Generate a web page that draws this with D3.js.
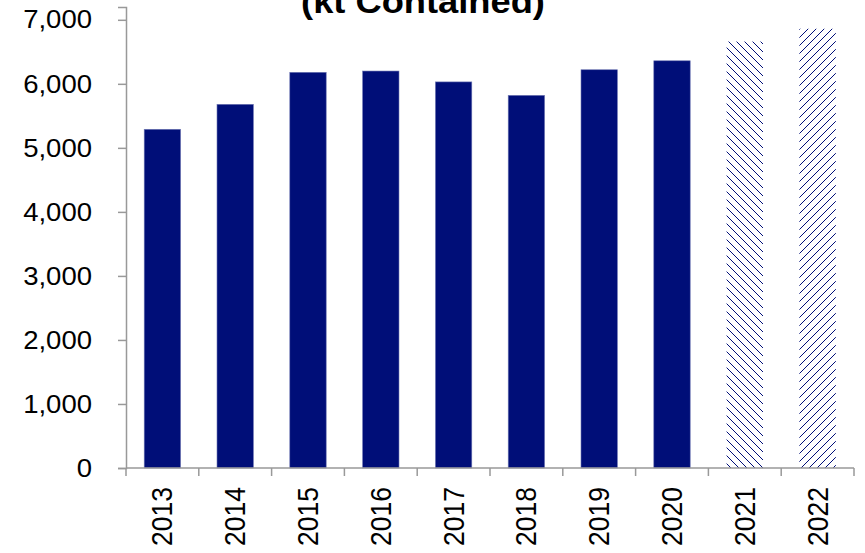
<!DOCTYPE html>
<html>
<head>
<meta charset="utf-8">
<script src="https://cdn.jsdelivr.net/npm/d3@7"></script>
<style>
  body { margin: 0; background: #fff; }
  svg text { font-family: "Liberation Sans", Arial, sans-serif; fill: #000; }
</style>
</head>
<body>
<svg id="chart" width="865" height="553"></svg>
<script>
const years = ["2013", "2014", "2015", "2016", "2017", "2018", "2019", "2020", "2021", "2022"];
const consumption = [5290, 5680, 6180, 6200, 6030, 5820, 6220, 6360, 6660, 6860];
const forecastYears = ["2021", "2022"];
const yTicks = [0, 1000, 2000, 3000, 4000, 5000, 6000, 7000];
const titleText = "(kt Contained)";

const svg = d3.select("#chart");
const margin = { top: 7, right: 11, bottom: 85, left: 126 };
const width = 865 - margin.left - margin.right;
const height = 553 - margin.top - margin.bottom;

const navy = "#000e78";

// hatch patterns for the forecast bars
const defs = svg.append("defs");
function hatch(id, down) {
    const n = 8;
    const p = defs.append("pattern")
        .attr("id", id)
        .attr("patternUnits", "userSpaceOnUse")
        .attr("width", n)
        .attr("height", n);
    p.append("rect").attr("width", n).attr("height", n).attr("fill", "#fff");
    d3.range(n).forEach(k => {
        p.append("rect")
            .attr("x", k)
            .attr("y", down ? k : n - 1 - k)
            .attr("width", 1)
            .attr("height", 1)
            .attr("fill", navy)
            .attr("shape-rendering", "crispEdges");
    });
}
hatch("hatchDown", true);
hatch("hatchUp", false);

const g = svg.append("g")
    .attr("transform", `translate(${margin.left},${margin.top})`);

const x = d3.scaleBand()
    .domain(years)
    .range([0, width])
    .paddingInner(0.5)
    .paddingOuter(0.25);

const y = d3.scaleLinear()
    .domain([0, 7200])
    .range([height, 0]);

// bars
g.selectAll(".bar")
    .data(years.map((yr, i) => ({ year: yr, value: consumption[i] })))
    .join("rect")
    .attr("class", "bar")
    .attr("x", d => x(d.year))
    .attr("y", d => y(d.value))
    .attr("width", x.bandwidth())
    .attr("height", d => height - y(d.value))
    .attr("fill", d => {
        if (!forecastYears.includes(d.year)) return navy;
        return d.year === "2021" ? "url(#hatchDown)" : "url(#hatchUp)";
    })
    .attr("stroke", d => forecastYears.includes(d.year) ? "none" : "#6f78b4")
    .attr("stroke-width", 0.6);

// y axis
const yAxis = g.append("g")
    .call(d3.axisLeft(y)
        .tickValues(yTicks)
        .tickFormat(d3.format(","))
        .tickSize(8)
        .tickPadding(26));
yAxis.select(".domain").attr("stroke", "#999").attr("stroke-width", 1.5);
yAxis.selectAll(".tick line").attr("stroke", "#999").attr("stroke-width", 1.5);
yAxis.selectAll(".tick text")
    .attr("x", null)
    .attr("transform", "translate(-34,0) scale(1.08,1)")
    .style("font-size", "25.5px")
    .style("font-family", "'Liberation Sans', Arial, sans-serif");

// x axis with ticks at category boundaries
const xAxis = g.append("g")
    .attr("transform", `translate(0,${height})`);
xAxis.append("line")
    .attr("x1", 0).attr("x2", width)
    .attr("stroke", "#999").attr("stroke-width", 1.5);
const step = x.step();
xAxis.selectAll(".xtick")
    .data(d3.range(years.length + 1))
    .join("line")
    .attr("class", "xtick")
    .attr("x1", i => i * step)
    .attr("x2", i => i * step)
    .attr("y1", 0)
    .attr("y2", 8)
    .attr("stroke", "#999").attr("stroke-width", 1.5);
xAxis.selectAll(".xlabel")
    .data(years)
    .join("text")
    .attr("class", "xlabel")
    .attr("transform", d => `translate(${x(d) + x.bandwidth() / 2 + 10},19) scale(1.1,1) rotate(-90)`)
    .attr("text-anchor", "end")
    .style("font-size", "26.5px")
    .text(d => d);

// title (its upper line is cut off by the frame, as in the source)
svg.append("text")
    .attr("x", 423)
    .attr("y", 13)
    .attr("text-anchor", "middle")
    .attr("transform", "translate(423,0) scale(1.1,1) translate(-423,0)")
    .style("font-size", "33px")
    .style("font-weight", "bold")
    .text(titleText);
</script>
</body>
</html>
